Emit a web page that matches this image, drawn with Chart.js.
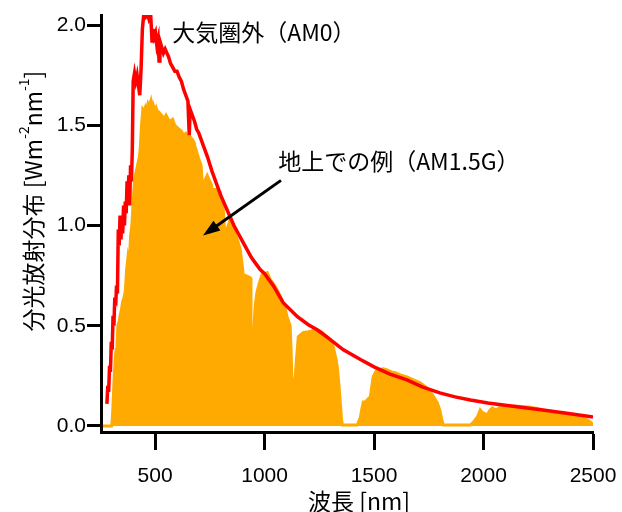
<!DOCTYPE html>
<html>
<head>
<meta charset="utf-8">
<script src="https://cdn.jsdelivr.net/npm/chart.js"></script>
<style>
  body { margin: 0; background: #fff; }
  #wrap { width: 622px; height: 512px; }
</style>
</head>
<body>
<div id="wrap"><canvas id="spectrumChart" width="622" height="512"></canvas></div>
<script>
// Spectrum data
const am0Nm = [280, 284, 288, 292, 296, 300, 304, 308, 312, 316, 320, 324, 328, 332, 336, 340, 344, 348, 352, 356,
  360, 364, 368, 372, 376, 380, 384, 388, 392, 396, 400, 406, 412, 418, 424, 430, 436, 442, 448, 456,
  464, 472, 480, 486, 490, 496, 502, 508, 514, 518, 522, 530, 538, 546, 554, 562, 570, 580, 590, 600,
  610, 620, 630, 640, 650, 656, 660, 670, 680, 690, 700, 720, 740, 760, 780, 800, 820, 840, 860, 880,
  900, 920, 940, 960, 980, 1000, 1040, 1085, 1150, 1200, 1240, 1290, 1360, 1440, 1500, 1570, 1650, 1720, 1800, 1870,
  1940, 2020, 2090, 2180, 2270, 2380, 2500];
const am0Val = [0.11, 0.20, 0.17, 0.30, 0.27, 0.42, 0.38, 0.55, 0.50, 0.64, 0.60, 0.70, 0.66, 0.98, 0.90, 1.05, 0.93, 1.02, 0.96, 1.10,
  1.00, 1.12, 1.06, 1.22, 1.12, 1.25, 1.10, 1.30, 1.22, 1.38, 1.72, 1.76, 1.72, 1.75, 1.70, 1.65, 1.78, 1.98, 2.05, 2.04,
  2.06, 2.03, 2.05, 1.92, 1.98, 1.94, 1.96, 1.90, 1.93, 1.82, 1.92, 1.89, 1.86, 1.88, 1.86, 1.84, 1.81, 1.79, 1.77, 1.77,
  1.74, 1.72, 1.68, 1.65, 1.62, 1.45, 1.58, 1.55, 1.52, 1.48, 1.46, 1.40, 1.34, 1.27, 1.21, 1.15, 1.10, 1.05, 1.00, 0.96,
  0.92, 0.88, 0.84, 0.81, 0.78, 0.76, 0.70, 0.615, 0.545, 0.505, 0.48, 0.44, 0.38, 0.33, 0.295, 0.26, 0.23, 0.195, 0.165, 0.145,
  0.13, 0.115, 0.105, 0.092, 0.08, 0.063, 0.045];

const am15Nm = [262, 302, 306, 310, 314, 318, 322, 326, 330, 336, 340, 346, 352, 358, 364, 370, 376, 382, 388, 394,
  400, 406, 412, 420, 428, 432, 438, 444, 450, 456, 462, 468, 474, 480, 486, 492, 498, 504, 510, 516,
  522, 530, 540, 550, 560, 570, 580, 590, 600, 610, 620, 630, 640, 650, 656, 662, 670, 680, 686, 692,
  700, 710, 716, 720, 726, 738, 750, 758, 762, 766, 783, 797, 810, 820, 828, 843, 860, 875, 889, 898,
  902, 915, 934, 938, 943, 950, 957, 966, 978, 989, 1000, 1012, 1026, 1040, 1057, 1070, 1085, 1095, 1103, 1117,
  1122, 1126, 1132, 1140, 1147, 1154, 1165, 1176, 1200, 1220, 1240, 1260, 1286, 1300, 1313, 1325, 1332, 1340, 1346, 1351,
  1355, 1423, 1437, 1445, 1451, 1460, 1469, 1483, 1490, 1496, 1505, 1515, 1542, 1560, 1580, 1600, 1620, 1650, 1680, 1711,
  1735, 1757, 1775, 1789, 1800, 1808, 1812, 1817, 1940, 1955, 1972, 1985, 1992, 1999, 2010, 2017, 2030, 2040, 2058, 2077,
  2100, 2123, 2160, 2200, 2240, 2273, 2310, 2351, 2390, 2429, 2455, 2475, 2490, 2500];
const am15Val = [0.0, 0.0, 0.06, 0.16, 0.26, 0.33, 0.38, 0.40, 0.50, 0.52, 0.55, 0.58, 0.62, 0.64, 0.67, 0.78, 0.84, 0.80, 0.95, 1.00,
  1.12, 1.22, 1.26, 1.30, 1.34, 1.38, 1.50, 1.58, 1.57, 1.59, 1.57, 1.61, 1.60, 1.62, 1.55, 1.60, 1.58, 1.59, 1.57, 1.50,
  1.56, 1.55, 1.53, 1.55, 1.53, 1.52, 1.53, 1.50, 1.49, 1.48, 1.47, 1.45, 1.46, 1.44, 1.36, 1.44, 1.43, 1.41, 1.30, 1.36,
  1.33, 1.30, 1.20, 1.13, 1.22, 1.25, 1.22, 1.20, 1.05, 1.18, 1.18, 1.165, 1.10, 0.93, 0.98, 1.03, 0.98, 0.93, 0.88, 0.80,
  0.755, 0.75, 0.74, 0.50, 0.38, 0.45, 0.60, 0.67, 0.72, 0.755, 0.76, 0.765, 0.73, 0.71, 0.68, 0.65, 0.615, 0.58, 0.545, 0.50,
  0.35, 0.17, 0.20, 0.245, 0.35, 0.445, 0.455, 0.465, 0.47, 0.475, 0.48, 0.47, 0.445, 0.43, 0.395, 0.34, 0.295, 0.20, 0.115, 0.04,
  0.005, 0.005, 0.04, 0.09, 0.12, 0.12, 0.13, 0.145, 0.20, 0.245, 0.265, 0.28, 0.285, 0.28, 0.27, 0.265, 0.255, 0.245, 0.23, 0.215,
  0.195, 0.17, 0.14, 0.115, 0.08, 0.04, 0.02, 0.005, 0.005, 0.02, 0.045, 0.08, 0.07, 0.065, 0.06, 0.055, 0.08, 0.09, 0.08, 0.095,
  0.10, 0.10, 0.098, 0.095, 0.088, 0.08, 0.073, 0.065, 0.055, 0.045, 0.038, 0.03, 0.018, 0.005];

const xTicks = [500, 1000, 1500, 2000, 2500];
const yTicks = [0, 0.5, 1.0, 1.5, 2.0];

const JP = '"Noto Sans CJK JP", sans-serif';

// text labels, arrow and axis titles
const notes = {
  id: "notes",
  afterDraw(c) {
    const g = c.ctx;
    const x = c.scales.x, y = c.scales.y;
    g.save();
    g.fillStyle = "#000";
    g.font = "23px " + JP;
    g.textBaseline = "middle";
    g.textAlign = "left";
    g.fillText("大気圏外（AM0）", x.getPixelForValue(578), y.getPixelForValue(1.965));
    g.fillText("地上での例（AM1.5G）", x.getPixelForValue(1062), y.getPixelForValue(1.32));

    // arrow
    const x1 = x.getPixelForValue(1075), y1 = y.getPixelForValue(1.225);
    const x2 = x.getPixelForValue(719), y2 = y.getPixelForValue(0.95);
    const a = Math.atan2(y2 - y1, x2 - x1);
    g.strokeStyle = "#000";
    g.lineWidth = 3;
    g.beginPath();
    g.moveTo(x1, y1);
    g.lineTo(x2 - 10 * Math.cos(a), y2 - 10 * Math.sin(a));
    g.stroke();
    g.beginPath();
    g.moveTo(x2, y2);
    g.lineTo(x2 - 17 * Math.cos(a) + 6 * Math.sin(a), y2 - 17 * Math.sin(a) - 6 * Math.cos(a));
    g.lineTo(x2 - 17 * Math.cos(a) - 6 * Math.sin(a), y2 - 17 * Math.sin(a) + 6 * Math.cos(a));
    g.closePath();
    g.fill();

    // x title
    g.fillText("波長 [nm]", 308, 501);

    // y title, rotated, with superscripts
    const parts = [["分光放射分布 [Wm", 23, 0], ["-2", 14, -9], ["nm", 23, 0], ["-1", 14, -9], ["]", 23, 0]];
    let total = 0;
    parts.forEach(p => { g.font = p[1] + "px " + JP; total += g.measureText(p[0]).width; });
    g.translate(33, 201);
    g.rotate(-Math.PI / 2);
    let pos = -total / 2;
    parts.forEach(p => {
      g.font = p[1] + "px " + JP;
      g.fillText(p[0], pos, p[2]);
      pos += g.measureText(p[0]).width;
    });
    g.restore();
  }
};

const ctx = document.getElementById("spectrumChart").getContext("2d");
const chart = new Chart(ctx, {
  type: "line",
  data: {
    datasets: [{
      label: "AM0",
      data: am0Nm.map((n, i) => ({ x: n, y: am0Val[i] })),
      borderColor: "#ff0000",
      borderWidth: 3.5,
      pointRadius: 0,
      fill: false,
      tension: 0,
      order: 0
    }, {
      label: "AM1.5G",
      data: am15Nm.map((n, i) => ({ x: n, y: am15Val[i] })),
      borderColor: "rgb(255,170,0)",
      backgroundColor: "rgb(255,170,0)",
      borderWidth: 3,
      pointRadius: 0,
      fill: "origin",
      tension: 0,
      order: 1
    }]
  },
  options: {
    responsive: false,
    animation: false,
    layout: { padding: { top: 15, right: 29, left: 0, bottom: 0 } },
    plugins: { legend: { display: false }, tooltip: { enabled: false } },
    scales: {
      x: {
        type: "linear",
        min: 253,
        max: 2500,
        afterBuildTicks: s => { s.ticks = xTicks.map(v => ({ value: v })); },
        afterFit: s => { s.height = 80; s.paddingLeft = 0; s.paddingRight = 0; },
        ticks: { color: "#000", padding: 14, maxRotation: 0, font: { family: "Liberation Sans", size: 21 }, callback: v => String(v) },
        grid: { drawOnChartArea: false, drawTicks: true, tickLength: 18, tickWidth: 3, tickColor: "#000" },
        border: { display: true, color: "#000", width: 3 }
      },
      y: {
        min: -0.03,
        max: 2.05,
        afterBuildTicks: s => { s.ticks = yTicks.map(v => ({ value: v })); },
        afterFit: s => { s.width = 101; s.paddingTop = 0; s.paddingBottom = 0; },
        ticks: { color: "#000", padding: 1, font: { family: "Liberation Sans", size: 21 }, callback: v => v.toFixed(1) },
        grid: { drawOnChartArea: false, drawTicks: true, tickLength: 14, tickWidth: 3, tickColor: "#000" },
        border: { display: true, color: "#000", width: 3 }
      }
    }
  },
  plugins: [notes]
});
</script>
</body>
</html>
